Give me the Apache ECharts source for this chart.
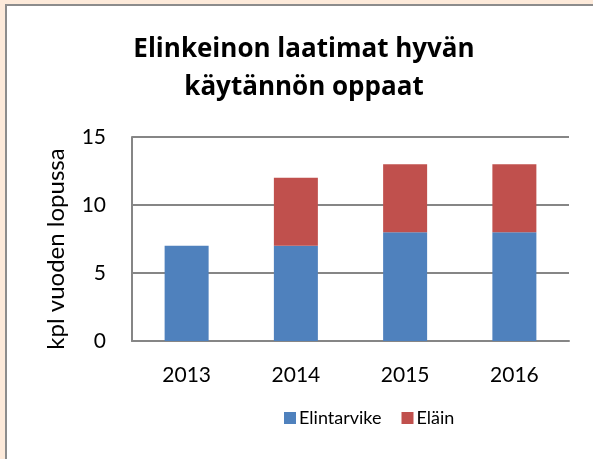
<!DOCTYPE html>
<html><head><meta charset="utf-8">
<script src="https://cdn.jsdelivr.net/npm/echarts@6/dist/echarts.min.js"></script>
<style>html,body{margin:0;padding:0;}#c{width:593px;height:459px;}</style>
</head><body><div id="c"></div>
<script>
const categories = ['2013', '2014', '2015', '2016'];
const elintarvike = [7, 7, 8, 8];
const elain = [0, 5, 5, 5];
const seriesNames = ['Elintarvike', 'Eläin'];
const titleText = 'Elinkeinon laatimat hyvän\nkäytännön oppaat';
const yAxisTitle = 'kpl vuoden lopussa';

const FONT = 'Lato';
const chart = echarts.init(document.getElementById('c'), null, {renderer: 'canvas'});
chart.setOption({
  animation: false,
  backgroundColor: '#FDEADA',
  graphic: [{
    type: 'rect', z: -10, silent: true,
    shape: {x: 6, y: 5, width: 700, height: 600},
    style: {fill: '#ffffff', stroke: '#8C8C8C', lineWidth: 2}
  }],
  title: {
    text: titleText, left: 299, top: 26, textAlign: 'center',
    textStyle: {fontFamily: 'Open Sans', fontWeight: 'bold', fontSize: 26, color: '#000', lineHeight: 38}
  },
  legend: {
    left: 279, top: 404, itemWidth: 12, itemHeight: 12, itemGap: 20,
    icon: 'rect',
    textStyle: {fontFamily: FONT, fontSize: 18, color: '#000', padding: [0,0,0,-2]},
    data: seriesNames
  },
  grid: {left: 132, right: 24, top: 137, bottom: 118},
  xAxis: {
    type: 'category', data: categories,
    axisLine: {lineStyle: {color: '#868686', width: 2}},
    axisTick: {show: false},
    axisLabel: {fontFamily: FONT, fontSize: 21, color: '#000', margin: 24}
  },
  yAxis: {
    type: 'value', min: 0, max: 15, interval: 5,
    name: yAxisTitle, nameLocation: 'middle', nameGap: 64, nameRotate: 90,
    nameTextStyle: {fontFamily: FONT, fontSize: 24, color: '#000', padding: [0, 20, 0, 0]},
    axisLine: {show: true, lineStyle: {color: '#868686', width: 2}},
    axisTick: {show: false},
    splitLine: {lineStyle: {color: '#868686', width: 2}},
    axisLabel: {fontFamily: FONT, fontSize: 21, color: '#000', margin: 26}
  },
  series: [
    {name: seriesNames[0], type: 'bar', stack: 's', data: elintarvike, barWidth: 44,
     itemStyle: {color: '#4F81BD'}},
    {name: seriesNames[1], type: 'bar', stack: 's', data: elain, barWidth: 44,
     itemStyle: {color: '#C0504D'}}
  ]
});
</script></body></html>
